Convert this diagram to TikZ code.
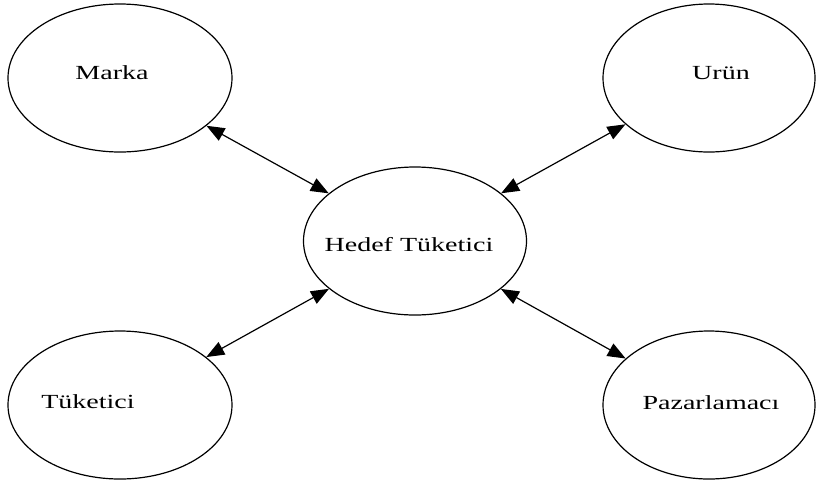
\documentclass[tikz,border=0pt]{standalone}
\usepackage{fontspec}
\setmainfont{Liberation Serif}[FakeStretch=1.4]
\usetikzlibrary{shapes.geometric, arrows.meta, positioning}

\tikzset{
  actor/.style={ellipse, draw, line width=0.6pt, minimum width=112pt, minimum height=74pt, font=\fontsize{12.5}{15}\selectfont},
  link/.style={line width=0.6pt, >={Triangle[length=9pt,width=7pt]}, <->}
}

\begin{document}
\begin{tikzpicture}[x=0.5pt, y=-0.5pt]
\useasboundingbox (0,0) rectangle (818,483);

% center
\node[actor, minimum width=111.5pt, label={[xshift=-3pt, yshift=-2pt]center:Hedef Tüketici}] (hedef) at (415,241) {};

% corners
\node[actor, label={[xshift=-4pt, yshift=2.5pt]center:Marka}] (marka) at (120,78) {};
\node[actor, minimum width=106pt, label={[xshift=6pt, yshift=2.5pt]center:Urün}] (urun) at (709,78) {};
\node[actor, label={[xshift=-16pt, yshift=1.5pt]center:Tüketici}] (tuketici) at (120,405) {};
\node[actor, minimum width=106pt, label={[xshift=1pt, yshift=1pt]center:Pazarlamacı}] (pazar) at (709,405) {};

\draw[link] (marka) -- (hedef);
\draw[link] (urun) -- (hedef);
\draw[link] (tuketici) -- (hedef);
\draw[link] (pazar) -- (hedef);
\end{tikzpicture}
\end{document}
